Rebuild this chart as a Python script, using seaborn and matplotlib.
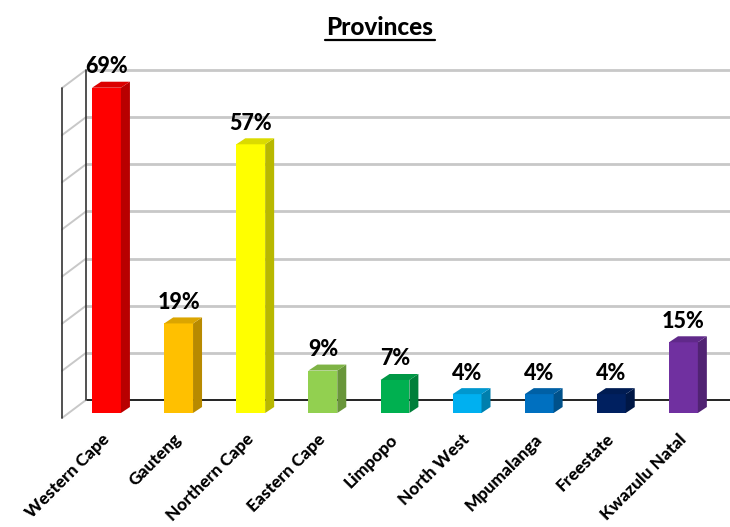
import matplotlib
matplotlib.use("Agg")
import matplotlib.pyplot as plt
import numpy as np
import pandas as pd
import seaborn as sns
from matplotlib.patches import Polygon
from matplotlib.lines import Line2D
from matplotlib.colors import to_rgb
from matplotlib.transforms import ScaledTranslation

# Survey share per province (%)
provinces = ["Western Cape", "Gauteng", "Northern Cape", "Eastern Cape", "Limpopo",
             "North West", "Mpumalanga", "Freestate", "Kwazulu Natal"]
shares = [69, 19, 57, 9, 7, 4, 4, 4, 15]
bar_colors = ["#FF0000", "#FFC000", "#FFFF00", "#92D050", "#00B050",
              "#00B0F0", "#0070C0", "#002060", "#7030A0"]
grid_levels = [0, 10, 20, 30, 40, 50, 60, 70]

sns.set_theme(style="white")
plt.rcParams["font.family"] = ["Lato", "DejaVu Sans"]
plt.rcParams["text.color"] = "black"
plt.rcParams["xtick.color"] = "black"
plt.rcParams["xtick.labelcolor"] = "black"

W, H = 730, 527
fig = plt.figure(figsize=(W / 100, H / 100), dpi=100)
ax = fig.add_axes([69 / W, 114 / H, 644 / W, 330 / H])

df = pd.DataFrame({"province": provinces, "share": shares})
sns.barplot(data=df, x="province", y="share", hue="province", palette=bar_colors,
            width=0.4, saturation=1, legend=False, ax=ax, zorder=5, linewidth=0)

XL, XR = -0.52, 8.41
YMAX = grid_levels[-1]
ax.set_xlim(XL, XR)
ax.set_ylim(0, YMAX)

# pixel -> data conversion for the oblique 3D offsets
ppx = 644 / (XR - XL)
ppy = 330 / YMAX
def off(px, py):
    return px / ppx, py / ppy

bdx, bdy = off(17, 13)    # back wall
fdx, fdy = off(-7, -5)    # front edge of side wall
ddx, ddy = off(9, 6)      # bar depth

grid_col = "#C8C8C8"
for v in grid_levels:
    lc = "#222222" if v == 0 else grid_col
    lw = 1.4 if v == 0 else 2.0
    ax.plot([XL + bdx, XR + bdx], [v + bdy, v + bdy], color=lc, lw=lw,
            clip_on=False, zorder=1, solid_capstyle="butt")
    ax.plot([XL + fdx, XL + bdx], [v + fdy, v + bdy], color="#C8C8C8", lw=1.4,
            clip_on=False, zorder=1)

# side wall vertical edges
ax.plot([XL + fdx, XL + fdx], [fdy, YMAX + fdy], color="#333333", lw=1.2, clip_on=False, zorder=2)
ax.plot([XL + bdx, XL + bdx], [bdy, YMAX + bdy], color="#333333", lw=1.2, clip_on=False, zorder=2)

def shade(c, f):
    r, g, b = to_rgb(c)
    return (r * f, g * f, b * f)

for p, val in zip(ax.patches, shares):
    x0, w, h = p.get_x(), p.get_width(), p.get_height()
    c = p.get_facecolor()
    x1 = x0 + w
    side = Polygon([(x1, 0), (x1, h), (x1 + ddx, h + ddy), (x1 + ddx, ddy)],
                   closed=True, facecolor=shade(c, 0.72), edgecolor="none",
                   zorder=5, clip_on=False)
    top = Polygon([(x0, h), (x1, h), (x1 + ddx, h + ddy), (x0 + ddx, h + ddy)],
                  closed=True, facecolor=shade(c, 0.86), edgecolor="none",
                  zorder=5, clip_on=False)
    ax.add_patch(side)
    ax.add_patch(top)
    ax.annotate(f"{val}%", (x0 + w / 2, h), xytext=(0, 10.5), textcoords="offset points",
                ha="center", va="baseline", fontsize=15.5, fontweight=900,
                color="black", zorder=6, annotation_clip=False)

for s in ax.spines.values():
    s.set_visible(False)
ax.set_xlabel("")
ax.set_ylabel("")
ax.set_yticks([])
ax.set_xticks(range(len(provinces)))
ax.set_xticklabels(provinces, rotation=45, ha="right", rotation_mode="anchor",
                   fontsize=12.5, fontweight=900, color="black")
ax.tick_params(axis="x", length=0, pad=13)
shift = ScaledTranslation(-4 / 72, 0, fig.dpi_scale_trans)
for lbl in ax.get_xticklabels():
    lbl.set_transform(lbl.get_transform() + shift)
ax.patch.set_alpha(0)

title = fig.text(380 / W, 1 - 35 / H, "Provinces", ha="center", va="baseline",
                 fontsize=17.5, fontweight=900, color="black")
fig.canvas.draw()
bb = title.get_window_extent()
inv = fig.transFigure.inverted()
uy_px = H - 40.5
(ux0, uy), (ux1, _) = inv.transform([(bb.x0 - 2, uy_px), (bb.x1 + 1, uy_px)])
fig.add_artist(Line2D([ux0, ux1], [uy, uy], transform=fig.transFigure,
                      color="black", lw=1.6))

fig.savefig("out.png", dpi=100)
